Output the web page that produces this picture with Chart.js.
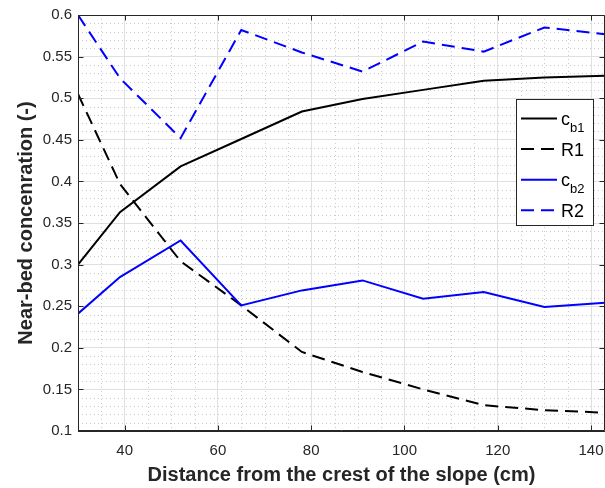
<!DOCTYPE html>
<html>
<head>
<meta charset="utf-8">
<script src="https://cdn.jsdelivr.net/npm/chart.js@4/dist/chart.umd.min.js"></script>
<style>
  html, body { margin: 0; padding: 0; background: #fff; }
  canvas { display: block; }
</style>
</head>
<body>
<canvas id="chart" width="605" height="488"></canvas>
<script>
// data
const distance = [30, 39, 52, 65, 78, 91, 104, 117, 130, 143];
const cb1 = [0.300, 0.363, 0.418, 0.451, 0.484, 0.499, 0.510, 0.521, 0.525, 0.527];
const R1  = [0.505, 0.397, 0.304, 0.251, 0.195, 0.171, 0.150, 0.131, 0.125, 0.122];
const cb2 = [0.241, 0.285, 0.329, 0.251, 0.269, 0.281, 0.259, 0.267, 0.249, 0.254];
const R2  = [0.600, 0.524, 0.452, 0.582, 0.555, 0.532, 0.568, 0.556, 0.585, 0.577];
const seriesLabels = ['c_b1', 'R1', 'c_b2', 'R2'];
const xTicks = [40, 60, 80, 100, 120, 140];
const yTicks = [0.1, 0.15, 0.2, 0.25, 0.3, 0.35, 0.4, 0.45, 0.5, 0.55, 0.6];

const FONT = "'Liberation Sans', Arial, Helvetica, sans-serif";
const AXIS = '#262626';

function pts(ys) {
    return distance.map((x, i) => ({ x: x, y: ys[i] }));
}

// minor dotted grid, drawn under the lines
const minorGrid = {
    id: 'minorGrid',
    beforeDatasetsDraw(chart) {
        const { ctx, chartArea: a, scales: { x, y } } = chart;
        ctx.save();
        ctx.strokeStyle = '#cbcbcb';
        ctx.lineWidth = 1;
        ctx.setLineDash([1, 3]);
        for (let v = 30; v <= 143; v += 5) {
            if (v % 20 === 0) continue;
            const px = Math.round(x.getPixelForValue(v)) + 0.5;
            ctx.beginPath(); ctx.moveTo(px, a.top); ctx.lineTo(px, a.bottom); ctx.stroke();
        }
        for (let k = 10; k <= 60; k++) {
            if (k % 5 === 0) continue;
            const py = Math.round(y.getPixelForValue(k / 100)) + 0.5;
            ctx.beginPath(); ctx.moveTo(a.left, py); ctx.lineTo(a.right, py); ctx.stroke();
        }
        ctx.restore();
    }
};

// box: top/right spines and inward ticks
const axesBox = {
    id: 'axesBox',
    afterDatasetsDraw(chart) {
        const { ctx, chartArea: a, scales: { x, y } } = chart;
        const L = a.left + 0.5, R = a.right - 0.5, T = a.top + 0.5, B = a.bottom - 0.5;
        ctx.save();
        ctx.strokeStyle = AXIS;
        ctx.lineWidth = 1;
        ctx.beginPath();
        ctx.moveTo(L, B); ctx.lineTo(L, T); ctx.lineTo(R, T); ctx.lineTo(R, B); ctx.lineTo(L, B);
        xTicks.forEach(v => {
            const px = Math.round(x.getPixelForValue(v)) + 0.5;
            ctx.moveTo(px, B); ctx.lineTo(px, B - 5);
            ctx.moveTo(px, T); ctx.lineTo(px, T + 5);
        });
        yTicks.forEach(v => {
            const py = Math.round(y.getPixelForValue(v)) + 0.5;
            ctx.moveTo(L, py); ctx.lineTo(L + 5, py);
            ctx.moveTo(R, py); ctx.lineTo(R - 5, py);
        });
        ctx.stroke();
        ctx.restore();
    }
};

// legend with subscripts
const subLegend = {
    id: 'subLegend',
    afterDraw(chart) {
        const ctx = chart.ctx;
        const bx = 516, by = 99, bw = 77, bh = 126;
        ctx.save();
        ctx.fillStyle = '#fff';
        ctx.fillRect(bx, by, bw, bh);
        ctx.strokeStyle = AXIS;
        ctx.lineWidth = 1;
        ctx.strokeRect(bx + 0.5, by + 0.5, bw, bh);
        chart.data.datasets.forEach((ds, i) => {
            const ly = 118.5 + i * 30.6;
            ctx.strokeStyle = ds.borderColor;
            ctx.lineWidth = 2;
            ctx.setLineDash(ds.borderDash || []);
            ctx.beginPath(); ctx.moveTo(521, ly); ctx.lineTo(557, ly); ctx.stroke();
            ctx.setLineDash([]);
            const parts = seriesLabels[i].split('_');
            ctx.fillStyle = '#000';
            ctx.textBaseline = 'alphabetic';
            ctx.font = '18px ' + FONT;
            ctx.fillText(parts[0], 561, ly + 6.5);
            if (parts[1]) {
                const w = ctx.measureText(parts[0]).width;
                ctx.font = '13px ' + FONT;
                ctx.fillText(parts[1], 561 + w, ly + 13.5);
            }
        });
        ctx.restore();
    }
};

new Chart(document.getElementById('chart'), {
    type: 'line',
    data: {
        datasets: [
            { label: seriesLabels[0], data: pts(cb1), borderColor: '#000000', order: 3 },
            { label: seriesLabels[1], data: pts(R1), borderColor: '#000000', borderDash: [13, 7], order: 2 },
            { label: seriesLabels[2], data: pts(cb2), borderColor: '#0000ff', order: 1 },
            { label: seriesLabels[3], data: pts(R2), borderColor: '#0000ff', borderDash: [13, 7], order: 0 }
        ]
    },
    options: {
        responsive: false,
        animation: false,
        layout: { padding: { top: 15, right: 0, left: 0, bottom: 0 }, autoPadding: false },
        elements: {
            line: { borderWidth: 2, tension: 0, fill: false },
            point: { radius: 0, hoverRadius: 0 }
        },
        plugins: {
            legend: { display: false },
            tooltip: { enabled: false }
        },
        scales: {
            x: {
                type: 'linear',
                min: 30,
                max: 143,
                afterBuildTicks: s => { s.ticks = xTicks.map(v => ({ value: v })); },
                afterFit: s => { s.height = 57; s.paddingRight = 0; s.paddingLeft = 0; },
                grid: { color: '#e0e0e0', drawTicks: false },
                border: { color: AXIS },
                ticks: {
                    padding: 11,
                    maxRotation: 0,
                    color: AXIS,
                    font: { family: FONT, size: 15 },
                    callback: v => String(v)
                },
                title: {
                    display: true,
                    text: 'Distance from the crest of the slope (cm)',
                    color: AXIS,
                    padding: { top: 0, bottom: 1 },
                    font: { family: FONT, size: 20, weight: 'bold' }
                }
            },
            y: {
                min: 0.1,
                max: 0.6,
                afterBuildTicks: s => { s.ticks = yTicks.map(v => ({ value: v })); },
                afterFit: s => { s.width = 78; s.paddingTop = 0; s.paddingBottom = 0; },
                grid: { color: '#e0e0e0', drawTicks: false },
                border: { color: AXIS },
                ticks: {
                    padding: 6,
                    color: AXIS,
                    font: { family: FONT, size: 15 },
                    callback: v => String(+v.toFixed(2))
                },
                title: {
                    display: true,
                    text: 'Near-bed concenration (-)',
                    color: AXIS,
                    padding: { top: 14, bottom: 0 },
                    font: { family: FONT, size: 20, weight: 'bold' }
                }
            }
        }
    },
    plugins: [minorGrid, axesBox, subLegend]
});
</script>
</body>
</html>
